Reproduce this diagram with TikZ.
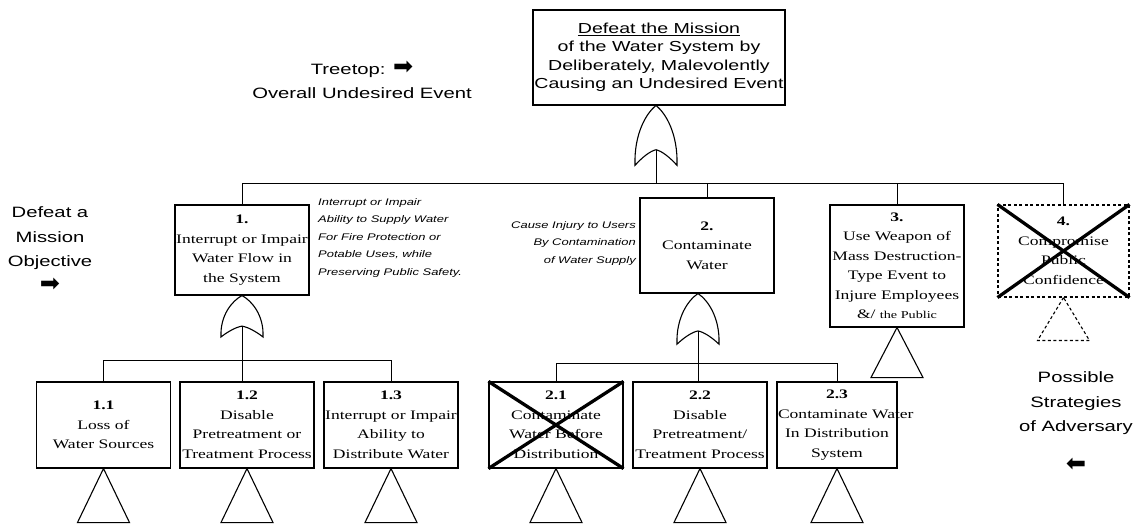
\documentclass[tikz,border=0pt]{standalone}
\usepackage{fontspec}
\setmainfont{Liberation Serif}
\newfontfamily\boxfont[FakeStretch=1.35]{Liberation Serif}
\newfontfamily\labfont[FakeStretch=1.35]{Liberation Sans}
\newfontfamily\symfont{DejaVu Sans}
\newcommand{\rarr}{{\symfont\fontsize{24}{24}\selectfont ➡}}
\newcommand{\larr}{\rotatebox{180}{\rarr}}

\tikzset{
  evbox/.style={draw, line width=1.1pt, align=center, inner sep=0.5pt,
    font=\boxfont\fontsize{13}{19.5}\selectfont},
  lbl/.style={align=center, inner sep=0pt, font=\labfont\fontsize{15}{24.5}\selectfont},
  note/.style={inner sep=0pt, font=\labfont\itshape\fontsize{9.6}{17.5}\selectfont},
  wire/.style={line width=1pt},
  xfer/.style={draw, line width=1.1pt, line join=miter},
  xout/.style={line width=3.3pt},
  orgate/.pic={
    \draw[line width=1.1pt] (-21,46) .. controls (-22,22) and (-10,6) .. (0,0)
      .. controls (10,6) and (22,22) .. (21,46)
      .. controls (14,40) and (6,35) .. (0,34)
      .. controls (-6,35) and (-14,40) .. (-21,46) -- cycle;
    \coordinate (-notch) at (0,34);
  }
}

\begin{document}
\begin{tikzpicture}[x=1pt, y=-1pt]
\useasboundingbox (0,0) rectangle (1140,526);

% side captions
\node[lbl] (treetop) at (362,80) {Treetop: \rarr\\Overall Undesired Event};
\node[lbl] (defeat) at (50,249) {Defeat a\\Mission\\Objective\\\rarr};
\node[lbl] (strat) at (1076,421) {Possible\\Strategies\\of Adversary\\\larr};

% top event
\node[evbox, minimum width=252pt, minimum height=95pt,
      font=\labfont\fontsize{14.5}{18.5}\selectfont] (top) at (659,57.5)
  {\underline{Defeat the Mission}\\of the Water System by\\Deliberately, Malevolently\\Causing an Undesired Event};
\pic[yscale=1.3] (g0) at ([xshift=-3pt]top.south) {orgate};

% mission objectives
\node[evbox, minimum width=134pt, minimum height=90pt] (e1) at (242,250)
  {\textbf{1.}\\Interrupt or Impair\\Water Flow in\\the System};
\node[evbox, minimum width=134pt, minimum height=95pt] (e2) at (707,245.5)
  {\textbf{2.}\\Contaminate\\Water};
\node[evbox, minimum width=134pt, minimum height=122pt] (e3) at (897,266)
  {\textbf{3.}\\Use Weapon of\\Mass Destruction-\\Type Event to\\Injure Employees\\\&/ {\fontsize{10.5}{19.5}\selectfont the Public}};
\node[evbox, dashed, dash pattern=on 3pt off 2.5pt, minimum width=131pt, minimum height=92pt] (e4) at (1063.5,251)
  {\textbf{4.}\\Compromise\\Public\\Confidence};

\node[note, anchor=north west, align=left] (n1) at (318,198)
  {Interrupt or Impair\\Ability to Supply Water\\For Fire Protection or\\Potable Uses, while\\Preserving Public Safety.};
\node[note, anchor=north east, align=right] (n2) at (636,221)
  {Cause Injury to Users\\By Contamination\\of Water Supply};

\pic[yscale=0.9] (g1) at (e1.south) {orgate};
\pic[yscale=1.1] (g2) at ([xshift=-9pt]e2.south) {orgate};

% strategies
\foreach \n/\cx/\w/\txt in {
  e11/103.5/134/{\textbf{1.1}\\Loss of\\Water Sources},
  e12/247/134/{\textbf{1.2}\\Disable\\Pretreatment or\\Treatment Process},
  e13/391/134/{\textbf{1.3}\\Interrupt or Impair\\Ability to\\Distribute Water},
  e21/556/134/{\textbf{2.1}\\Contaminate\\Water Before\\Distribution},
  e22/700/134/{\textbf{2.2}\\Disable\\Pretreatment/\\Treatment Process},
  e23/837/120/{\textbf{2.3}\\\makebox[118pt][l]{Contaminate Water}\\In Distribution\\System}}
  \node[evbox, minimum width=\w pt, minimum height=86pt] (\n) at (\cx,425) {\txt};

% connectors
\coordinate (bar1) at (0,184);
\draw[wire] (e1.north) |- (bar1 -| e4.north) -- (e4.north);
\draw[wire] (g0-notch) -- (g0-notch |- bar1);
\draw[wire] (e2.north) -- (e2.north |- bar1);
\draw[wire] (e3.north) -- (e3.north |- bar1);

\coordinate (bar2) at (0,361);
\draw[wire] (e11.north) |- (bar2 -| e13.north) -- (e13.north);
\draw[wire] (g1-notch) -- (g1-notch |- e12.north);

\coordinate (bar3) at (0,364);
\draw[wire] (e21.north) |- (bar3 -| e23.north) -- (e23.north);
\draw[wire] (g2-notch) -- (g2-notch |- e22.north);

% transfer triangles
\foreach \n in {e11,e12,e13,e21,e22,e23}
  \draw[xfer] (\n.south) -- ++(-26,54) -- ++(52,0) -- cycle;
\draw[xfer] (e3.south) -- ++(-26,50) -- ++(52,0) -- cycle;
\draw[xfer, dashed, dash pattern=on 3pt off 2.5pt] (e4.south) -- ++(-26,43) -- ++(52,0) -- cycle;

% struck-out branches
\draw[xout] (e21.north west) -- (e21.south east) (e21.south west) -- (e21.north east);
\draw[xout] (e4.north west) -- (e4.south east) (e4.south west) -- (e4.north east);
\end{tikzpicture}
\end{document}
